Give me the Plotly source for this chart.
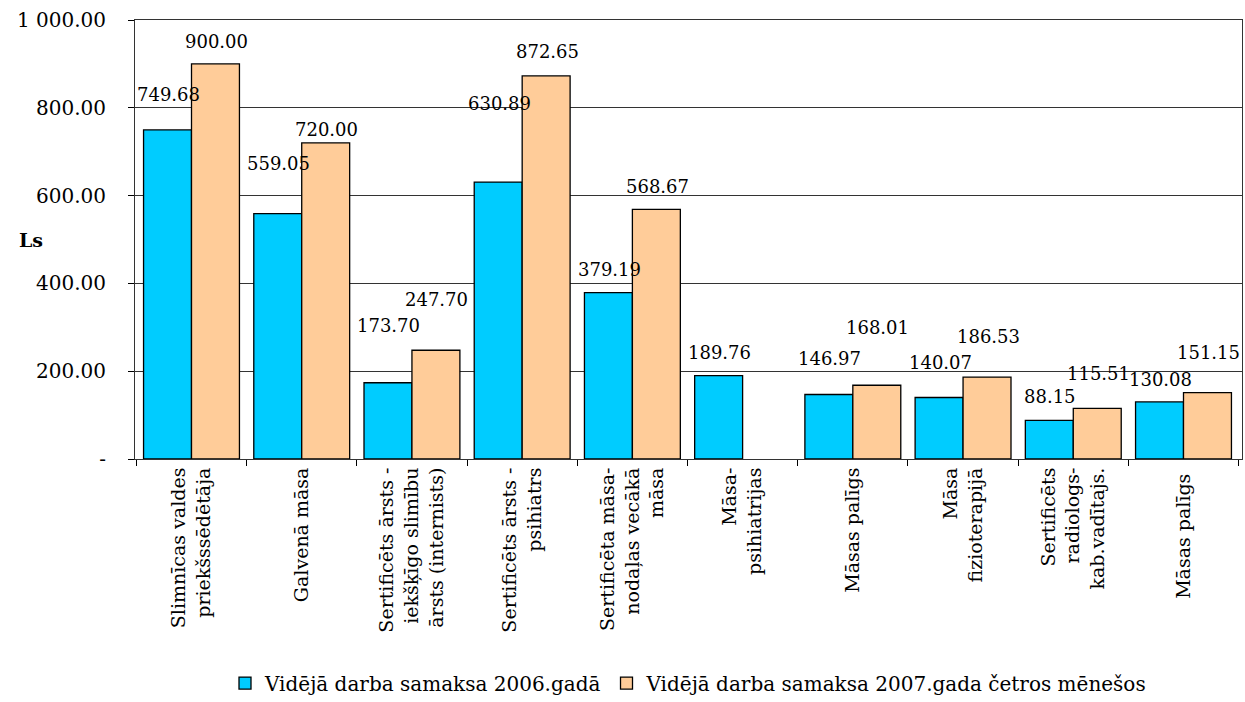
import plotly.graph_objects as go

categories = [
    "Slimnīcas valdes<br>priekšssēdētāja",
    "Galvenā māsa",
    "Sertificēts ārsts -<br>iekšķīgo slimību<br>ārsts (internists)",
    "Sertificēts ārsts -<br>psihiatrs",
    "Sertificēta māsa-<br>nodaļas vecākā<br>māsa",
    "Māsa-<br>psihiatrijas",
    "Māsas palīgs",
    "Māsa<br>fizioterapijā",
    "Sertificēts<br>radiologs-<br>kab.vadītajs.",
    "Māsas palīgs ",
]
values_2006 = [749.68, 559.05, 173.70, 630.89, 379.19, 189.76, 146.97, 140.07, 88.15, 130.08]
values_2007 = [900.00, 720.00, 247.70, 872.65, 568.67, None, 168.01, 186.53, 115.51, 151.15]
series_names = ["Vidējā darba samaksa 2006.gadā", "Vidējā darba samaksa 2007.gada četros mēnešos"]
y_tickvals = [0, 200, 400, 600, 800, 1000]
y_ticktext = ["-", "200.00", "400.00", "600.00", "800.00", "1 000.00"]

# value-label lift above the bar top, in pixels (style only)
label_lift_2006 = [35, 50, 57, 79, 23, 23, 36, 35, 24, 22]
label_lift_2007 = [22, 13, 51, 24, 23, 0, 58, 41, 35, 40]

FONT = "DejaVu Serif, Liberation Serif, serif"

fig = go.Figure()
colors = ["#00CCFF", "#FFCC99"]
shifts = [-24, 24]
for name, vals, col, sh, lifts in zip(series_names, [values_2006, values_2007], colors, shifts,
                                      [label_lift_2006, label_lift_2007]):
    fig.add_trace(go.Bar(
        x=categories, y=vals, name=name,
        marker=dict(color=col, line=dict(color="black", width=1.3)),
    ))
    for c, v, lift in zip(categories, vals, lifts):
        if v is None:
            continue
        fig.add_annotation(x=c, y=v, xref="x", yref="y", text=f"{v:.2f}",
                           showarrow=False, xshift=sh + 1, yshift=lift,
                           font=dict(family=FONT, size=18, color="black"))

fig.update_layout(
    width=1245, height=702,
    paper_bgcolor="white", plot_bgcolor="white",
    barmode="group", bargap=0.13, bargroupgap=0,
    margin=dict(l=135, r=3, t=20, b=243),
    font=dict(family=FONT, size=18, color="black"),
    legend=dict(orientation="h", x=0.5, xanchor="center", xref="paper",
                y=0.027, yanchor="middle", yref="container",
                font=dict(family=FONT, size=20), traceorder="normal", itemwidth=30),
    showlegend=True,
)
fig.update_xaxes(
    type="category", tickangle=-90, tickson="boundaries", ticks="outside",
    ticklen=6, tickcolor="black", showline=True, linecolor="#333333", linewidth=1,
    mirror=True, tickfont=dict(family=FONT, size=19), automargin=False,
)
fig.update_yaxes(
    range=[0, 1000], tickvals=y_tickvals, ticktext=y_ticktext,
    ticks="outside", ticklen=6, tickcolor="black", ticklabelstandoff=18,
    showline=True, linecolor="#333333", linewidth=1, mirror=True,
    showgrid=True, gridcolor="#333333", gridwidth=1,
    tickfont=dict(family=FONT, size=20), zeroline=False, automargin=False,
)
fig.add_annotation(text="<b>Ls</b>", xref="paper", yref="paper", x=-0.0935, y=0.5,
                   xanchor="center", showarrow=False, font=dict(family=FONT, size=19))

fig.write_html("out.html", config={"displayModeBar": False},
               post_script="document.body.style.margin='0';")
